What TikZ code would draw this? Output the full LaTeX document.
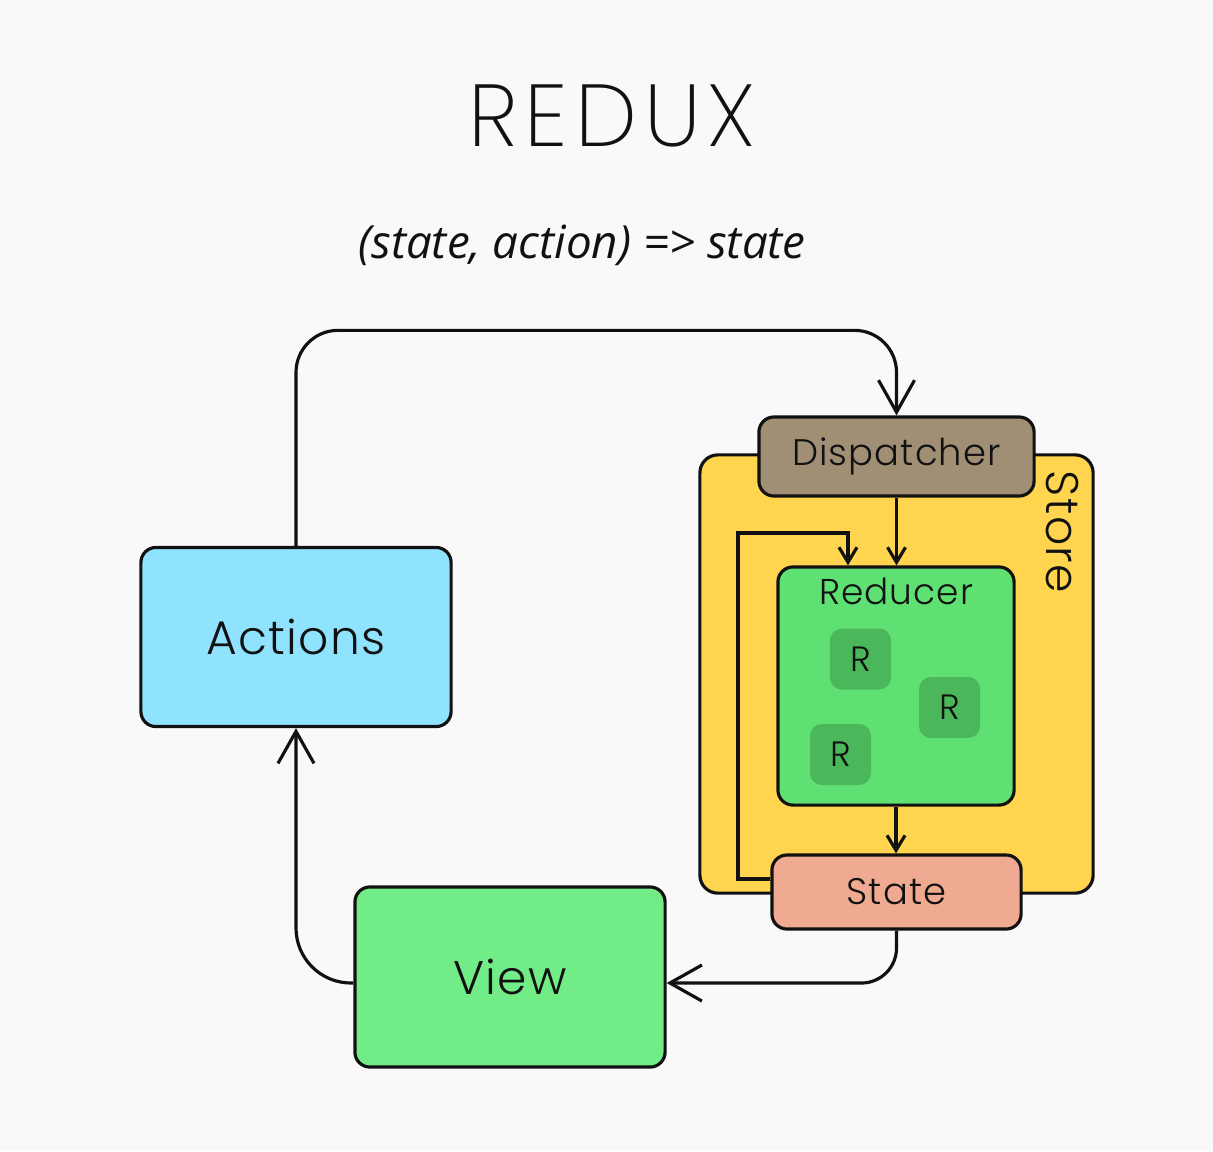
\documentclass[tikz,border=0pt]{standalone}
\usepackage{fontspec}
\usepackage{xcolor}
\usetikzlibrary{arrows.meta,positioning}
\newfontfamily\boxfont{Poppins Light}[LetterSpace=3]
\newfontfamily\titlefont{Poppins ExtraLight}[LetterSpace=8]
\newfontfamily\subfont{Open Sans}
\definecolor{bg}{HTML}{F9F9F9}
\definecolor{ink}{HTML}{111111}
\definecolor{actcyan}{HTML}{8FE3FF}
\definecolor{viewgreen}{HTML}{71EC87}
\definecolor{storeyellow}{HTML}{FFD54F}
\definecolor{dispbrown}{HTML}{A08E75}
\definecolor{redgreen}{HTML}{5FE073}
\definecolor{rgreen}{HTML}{4AB85A}
\definecolor{statepink}{HTML}{EFAA91}

\begin{document}
\begin{tikzpicture}[x=0.01cm,y=-0.01cm,>={Straight Barb[length=3.2mm,width=3.6mm]},
  box/.style={draw=ink,line width=0.9pt,rounded corners=1.5mm,inner sep=0pt,text=ink,font=\boxfont\fontsize{13.4}{16}\selectfont},
  midbox/.style={box,font=\boxfont\fontsize{10.5}{12}\selectfont},
  rbox/.style={fill=rgreen,rounded corners=1.2mm,minimum width=0.61cm,minimum height=0.61cm,inner sep=0pt,text=ink,font=\boxfont\fontsize{10}{12}\selectfont},
  link/.style={draw=ink,line width=0.9pt},
  minor/.style={-{Straight Barb[length=1.5mm,width=1.8mm]}}]
\fill[bg] (0,0) rectangle (1213,1151);
\useasboundingbox (0,0) rectangle (1213,1151);
\node[text=ink,font=\titlefont\fontsize{25}{30}\selectfont] (title) at (612,116) {REDUX};
\node[text=ink,font=\subfont\itshape\fontsize{13}{15}\selectfont] (formula) at (582,245) {(state, action) => state};
% store with its parts
\node[midbox,fill=storeyellow,rounded corners=1.8mm,minimum width=3.93cm,minimum height=4.38cm] (Store) at (896.5,674) {};
\node[text=ink,rotate=-90,font=\boxfont\fontsize{13}{15}\selectfont] (StoreLbl) at (1062,532) {Store};
\node[midbox,fill=dispbrown,minimum width=2.75cm,minimum height=0.79cm] (Dispatcher) at (896.5,456.5) {Dispatcher};
\node[midbox,fill=redgreen,minimum width=2.36cm,minimum height=2.38cm] (Reducer) at (896,686) {};
\node[text=ink,inner sep=0pt,font=\boxfont\fontsize{10.2}{12}\selectfont,below=0.12cm of Reducer.north] (ReducerLbl) {Reducer};
\node[rbox] (R1) at (860.5,659) {R};
\node[rbox] (R2) at (949.5,707.5) {R};
\node[rbox] (R3) at (840.5,754.5) {R};
\node[midbox,fill=statepink,minimum width=2.49cm,minimum height=0.74cm] (State) at (896.5,892) {State};
% actions and view
\node[box,fill=actcyan,minimum width=3.1cm,minimum height=1.79cm] (Actions) at (296,637) {Actions};
\node[box,fill=viewgreen,minimum width=3.1cm,minimum height=1.8cm] (View) at (510,977) {View};
% connectors
\draw[link,->,rounded corners=0.42cm] (Actions.north) |- ([yshift=0.85cm]Dispatcher.north) -- (Dispatcher.north);
\draw[link,->,rounded corners=0.55cm] ([yshift=-0.6mm]View.west) -| (Actions.south);
\draw[link,->,rounded corners=0.35cm] (State.south) |- ([yshift=-0.6mm]View.east);
\draw[link,minor] (Dispatcher.south) -- (Dispatcher.south |- Reducer.north);
\draw[link,minor] (Reducer.south) -- (Reducer.south |- State.north);
\coordinate (loop) at (738,533);
\draw[link,minor] ([yshift=1.3mm]State.west) -| (loop) -| ([xshift=-4.8mm]Reducer.north);
\end{tikzpicture}
\end{document}
